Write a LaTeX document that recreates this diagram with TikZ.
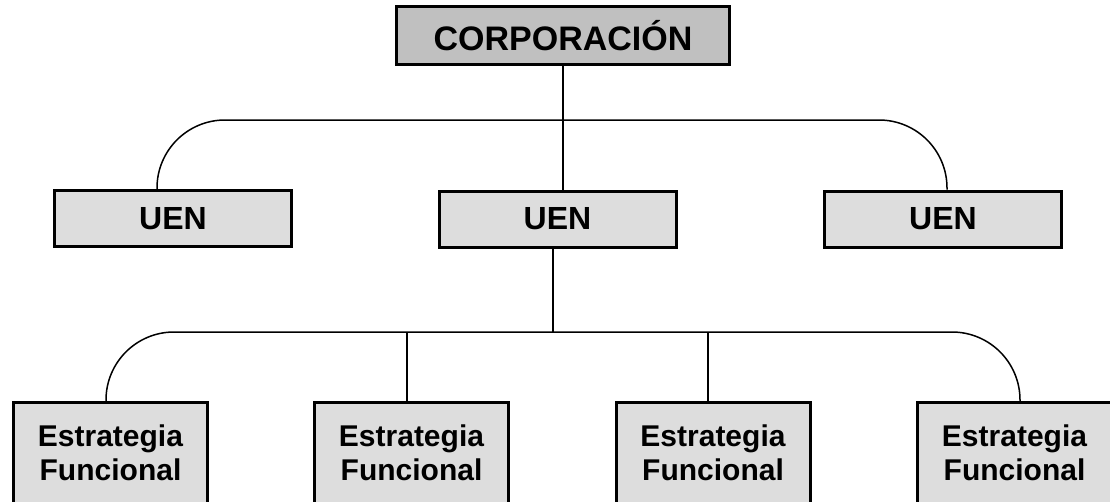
\documentclass[tikz,border=0pt]{standalone}
\usepackage{fontspec}
\setmainfont{Liberation Sans}
\definecolor{corpfill}{HTML}{C0C0C0}
\definecolor{uenfill}{HTML}{DDDDDD}
\tikzset{
  box/.style={draw=black, line width=3pt, rectangle, inner sep=0pt, align=center, font=\bfseries},
  corpbox/.style={box, fill=corpfill, minimum width=333pt, minimum height=58pt, font=\bfseries\fontsize{34}{40}\selectfont},
  uenbox/.style={box, fill=uenfill, minimum width=237pt, minimum height=56pt, font=\bfseries\fontsize{32}{38}\selectfont},
  funcbox/.style={box, fill=uenfill, minimum width=194pt, minimum height=101pt, font=\bfseries\fontsize{30}{34}\selectfont},
  conn/.style={draw=black, line width=1.5pt, rounded corners=68pt},
}
\begin{document}
\begin{tikzpicture}[x=1pt,y=-1pt]
\useasboundingbox (0,0) rectangle (1110,501);
\clip (0,0) rectangle (1110,501);
\node[corpbox] (corp) at (563,35.5) {CORPORACIÓN};
\node[uenbox] (uen1) at (173,218.5) {UEN};
\node[uenbox] (uen2) at (557.5,219) {UEN};
\node[uenbox] (uen3) at (943,219) {UEN};
\node[funcbox] (f1) at (110.5,453) {Estrategia\\Funcional};
\node[funcbox] (f2) at (411.5,453) {Estrategia\\Funcional};
\node[funcbox] (f3) at (713,453) {Estrategia\\Funcional};
\node[funcbox] (f4) at (1014.5,453) {Estrategia\\Funcional};
\coordinate (j1) at (563,120);
\coordinate (j2) at (553,332);
% top level
\draw[conn] (corp.south -| j1) -- (j1);
\draw[conn] (157,0 |- uen1.north) |- (j1) -| (947,0 |- uen3.north);
\draw[conn] (j1) -- (j1 |- uen2.north);
% bottom level
\draw[conn] (j2 |- uen2.south) -- (j2);
\draw[conn] (106,0 |- f1.north) |- (j2) -| (1020,0 |- f4.north);
\draw[conn] (407,0 |- j2) -- (407,0 |- f2.north);
\draw[conn] (708,0 |- j2) -- (708,0 |- f3.north);
\end{tikzpicture}
\end{document}
